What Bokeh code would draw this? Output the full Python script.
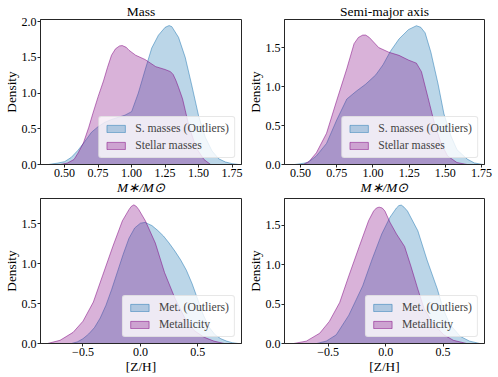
from bokeh.plotting import figure
from bokeh.layouts import column, row
from bokeh.models import Legend, LegendItem, FixedTicker, CustomJSTickFormatter, Range1d
from bokeh.embed import file_html
from bokeh.resources import INLINE

# ---------------- data ----------------
mass_out_x = [0.38, 0.45, 0.50, 0.55, 0.60, 0.65, 0.70, 0.75, 0.80, 0.85, 0.90, 0.95, 1.00, 1.05,
              1.10, 1.15, 1.20, 1.25, 1.28, 1.30, 1.35, 1.40, 1.45, 1.50, 1.55, 1.60, 1.65, 1.70, 1.75, 1.80]
mass_out_y = [0.00, 0.02, 0.04, 0.10, 0.20, 0.32, 0.45, 0.53, 0.59, 0.63, 0.66, 0.69, 0.74, 1.00,
              1.32, 1.63, 1.81, 1.92, 1.945, 1.93, 1.78, 1.50, 1.10, 0.68, 0.38, 0.19, 0.08, 0.035, 0.012, 0.00]
mass_x = [0.47, 0.52, 0.57, 0.60, 0.64, 0.68, 0.71, 0.75, 0.79, 0.82, 0.85, 0.88, 0.91, 0.93, 0.96, 0.98,
          1.03, 1.10, 1.18, 1.25, 1.29, 1.31, 1.33, 1.35, 1.38, 1.40, 1.42, 1.445, 1.47, 1.49, 1.54, 1.59]
mass_y = [0.00, 0.02, 0.07, 0.16, 0.30, 0.52, 0.71, 0.95, 1.17, 1.36, 1.53, 1.62, 1.66, 1.665, 1.64, 1.60,
          1.53, 1.47, 1.37, 1.33, 1.30, 1.26, 1.18, 1.08, 0.92, 0.76, 0.60, 0.44, 0.30, 0.21, 0.07, 0.00]

sma_out_x = [0.46, 0.50, 0.55, 0.61, 0.68, 0.75, 0.82, 0.885, 0.95, 1.02, 1.07, 1.12, 1.18, 1.245,
             1.30, 1.33, 1.36, 1.40, 1.45, 1.49, 1.54, 1.58, 1.65, 1.70, 1.76]
sma_out_y = [0.00, 0.01, 0.025, 0.11, 0.27, 0.57, 0.84, 0.94, 1.03, 1.15, 1.28, 1.45, 1.61, 1.73,
             1.78, 1.76, 1.69, 1.44, 1.03, 0.65, 0.36, 0.19, 0.07, 0.02, 0.00]
sma_x = [0.52, 0.56, 0.61, 0.68, 0.75, 0.82, 0.87, 0.90, 0.93, 0.95, 0.975, 1.04, 1.11, 1.18, 1.245,
         1.30, 1.335, 1.38, 1.425, 1.47, 1.515, 1.58, 1.65]
sma_y = [0.00, 0.04, 0.15, 0.40, 0.82, 1.23, 1.55, 1.63, 1.66, 1.66, 1.63, 1.50, 1.44, 1.40, 1.34,
         1.30, 1.19, 0.86, 0.525, 0.275, 0.11, 0.025, 0.00]

met1_out_x = [-0.60, -0.55, -0.50, -0.45, -0.40, -0.35, -0.30, -0.25, -0.20, -0.15, -0.10, -0.05, 0.00,
              0.04, 0.10, 0.15, 0.20, 0.25, 0.30, 0.35, 0.40, 0.45, 0.50, 0.55, 0.60, 0.65, 0.70, 0.75,
              0.80, 0.85]
met1_out_y = [0.00, 0.02, 0.06, 0.12, 0.20, 0.32, 0.48, 0.68, 0.90, 1.12, 1.32, 1.45, 1.51,
              1.52, 1.48, 1.42, 1.35, 1.26, 1.16, 1.05, 0.92, 0.75, 0.55, 0.35, 0.20, 0.11, 0.06, 0.03,
              0.01, 0.00]
met1_x = [-0.81, -0.70, -0.586, -0.50, -0.41, -0.33, -0.24, -0.157, -0.10, -0.08, -0.057, -0.035, -0.014,
          0.043, 0.13, 0.21, 0.30, 0.386, 0.47, 0.557, 0.64, 0.73]
met1_y = [0.00, 0.04, 0.14, 0.28, 0.52, 0.85, 1.22, 1.54, 1.68, 1.72, 1.74, 1.72, 1.68,
          1.54, 1.26, 0.89, 0.57, 0.32, 0.16, 0.077, 0.03, 0.00]

met2_out_x = [-0.60, -0.517, -0.43, -0.32, -0.20, -0.12, -0.034, 0.037, 0.094, 0.115, 0.136, 0.16, 0.19,
              0.28, 0.36, 0.45, 0.50, 0.56, 0.65, 0.73, 0.82]
met2_out_y = [0.00, 0.03, 0.11, 0.36, 0.73, 1.06, 1.39, 1.60, 1.72, 1.75, 1.756, 1.73, 1.68,
              1.43, 1.06, 0.69, 0.44, 0.24, 0.09, 0.03, 0.00]
met2_x = [-0.80, -0.69, -0.574, -0.49, -0.40, -0.32, -0.23, -0.148, -0.105, -0.08, -0.057, -0.03, -0.006,
          0.037, 0.094, 0.165, 0.22, 0.28, 0.335, 0.42, 0.506, 0.59, 0.705]
met2_y = [0.00, 0.03, 0.13, 0.28, 0.52, 0.86, 1.23, 1.56, 1.68, 1.72, 1.73, 1.72, 1.68,
          1.54, 1.39, 1.23, 0.98, 0.69, 0.44, 0.24, 0.11, 0.04, 0.00]

titles = ["Mass", "Semi-major axis"]
mass_labels = ["S. masses (Outliers)", "Stellar masses"]
met_labels = ["Met. (Outliers)", "Metallicity"]
xlabel_top = "M∗/M⊙"
xlabel_bottom = "[Z/H]"
ylabel = "Density"
xticks_top = [0.50, 0.75, 1.00, 1.25, 1.50, 1.75]
xticks_bottom = [-0.5, 0.0, 0.5]
yticks_big = [0.0, 0.5, 1.0, 1.5, 2.0]
yticks = [0.0, 0.5, 1.0, 1.5]

FONT = "Liberation Serif"
BLUE = "#1f77b4"
PURPLE = "#800080"


def panel(width, height, xr, yr, xt, yt, xdec, series, labels, xlabel, title=None,
          bl=36, br=6, bt=1, bb=30, italic=False):
    p = figure(width=width, height=height, x_range=Range1d(*xr), y_range=Range1d(*yr),
               output_backend="svg", toolbar_location=None, title=title,
               min_border_left=bl, min_border_right=br, min_border_top=bt, min_border_bottom=bb)
    p.xgrid.visible = False
    p.ygrid.visible = False
    p.outline_line_color = "#262626"
    p.outline_line_width = 1
    p.background_fill_color = "white"
    p.border_fill_color = "white"
    items = []
    for (xs, ys, col), lab in zip(series, labels):
        r = p.patch(xs, ys, fill_color=col, fill_alpha=0.3, line_color=col, line_alpha=0.5,
                    line_width=1)
        items.append(LegendItem(label=lab, renderers=[r]))
    leg = Legend(items=items, location="bottom_right")
    leg.label_text_font = FONT
    leg.label_text_font_size = "11.7px"
    leg.label_height = 12
    leg.glyph_height = 9
    leg.glyph_width = 23
    leg.label_standoff = 8
    leg.spacing = 4
    leg.padding = 5
    leg.margin = 6
    leg.border_line_color = "#d0d0d0"
    leg.border_line_width = 1
    leg.background_fill_alpha = 0.8
    if hasattr(leg, "border_radius"):
        leg.border_radius = 3
    p.add_layout(leg)

    p.xaxis.ticker = FixedTicker(ticks=xt)
    p.yaxis.ticker = FixedTicker(ticks=yt)
    p.xaxis.formatter = CustomJSTickFormatter(
        code="return tick.toFixed(%d).replace('-', '\u2212');" % xdec)
    p.yaxis.formatter = CustomJSTickFormatter(code="return tick.toFixed(1);")
    for ax in (p.xaxis, p.yaxis):
        ax.major_label_text_font = FONT
        ax.major_label_text_font_size = "12px"
        ax.major_label_text_color = "black"
        ax.axis_label_text_font = FONT
        ax.axis_label_text_font_size = "13.3px"
        ax.axis_label_text_color = "black"
        ax.axis_label_text_font_style = "normal"
        ax.major_tick_in = 0
        ax.major_tick_out = 3
        ax.minor_tick_line_color = None
        ax.axis_line_color = "#262626"
        ax.major_tick_line_color = "#262626"
        ax.major_label_standoff = 1
        ax.axis_label_standoff = 0
    p.xaxis.axis_label = xlabel
    p.yaxis.axis_label = ylabel
    if italic:
        p.xaxis.axis_label_text_font_style = "italic"
    if title is not None:
        p.title.text_font = FONT
        p.title.text_font_size = "13.5px"
        p.title.text_font_style = "normal"
        p.title.align = "center"
        p.title.text_color = "black"
        p.title.standoff = 2
    return p


p1 = panel(244, 197, (0.32, 1.82), (0, 2.03), xticks_top, yticks_big, 2,
           [(mass_out_x, mass_out_y, BLUE), (mass_x, mass_y, PURPLE)], mass_labels,
           xlabel_top, title=titles[0], br=3, bt=18, italic=True)
p2 = panel(253, 197, (0.39, 1.77), (0, 1.86), xticks_top, yticks, 2,
           [(sma_out_x, sma_out_y, BLUE), (sma_x, sma_y, PURPLE)], mass_labels,
           xlabel_top, title=titles[1], br=13, bt=18, italic=True)
p3 = panel(244, 179, (-0.87, 0.88), (0, 1.82), xticks_bottom, yticks, 1,
           [(met1_out_x, met1_out_y, BLUE), (met1_x, met1_y, PURPLE)], met_labels,
           xlabel_bottom, br=3, bt=1)
p4 = panel(253, 179, (-0.88, 0.86), (0, 1.84), xticks_bottom, yticks, 1,
           [(met2_out_x, met2_out_y, BLUE), (met2_x, met2_y, PURPLE)], met_labels,
           xlabel_bottom, br=13, bt=1)

layout = column(row(p1, p2), row(p3, p4))
open("out.html", "w").write(file_html(layout, INLINE))
